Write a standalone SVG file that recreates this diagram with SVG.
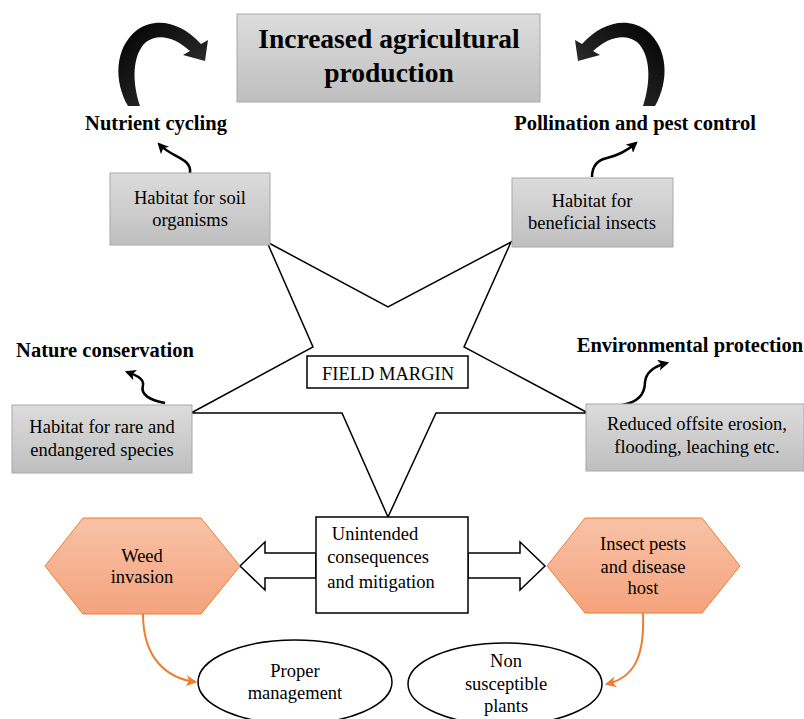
<svg xmlns="http://www.w3.org/2000/svg" width="804" height="719" viewBox="0 0 804 719">
<defs>
<linearGradient id="gray" x1="0" y1="0" x2="0" y2="1"><stop offset="0" stop-color="#dcdcdc"/><stop offset="1" stop-color="#bfbfbf"/></linearGradient>
<linearGradient id="orange" x1="0" y1="0" x2="0" y2="1"><stop offset="0" stop-color="#f8c2a7"/><stop offset="1" stop-color="#f4a37d"/></linearGradient>
<linearGradient id="blk" x1="0" y1="0" x2="1" y2="1"><stop offset="0" stop-color="#000"/><stop offset="0.6" stop-color="#222"/><stop offset="1" stop-color="#444"/></linearGradient>
<marker id="ah" viewBox="0 0 10 10" refX="8" refY="5" markerWidth="11" markerHeight="11" markerUnits="userSpaceOnUse" orient="auto"><path d="M0,0 L10,5 L0,10 L2.5,5 z" fill="#000"/></marker>
<marker id="oh" viewBox="0 0 10 10" refX="8" refY="5" markerWidth="11" markerHeight="11" markerUnits="userSpaceOnUse" orient="auto"><path d="M0,0 L10,5 L0,10 L2.5,5 z" fill="#ed7d31"/></marker>
<path id="bigarrow" d="M128,106 C114,82 114,48 137,30 C157,16 182,23 201,44 L208,40 L205,61 L183,55 L190,51 C175,37 158,33 146,42 C132,55 132,82 140,106 Z"/>
</defs>
<style>
text{font-family:"Liberation Serif","Times New Roman",serif;fill:#000;text-anchor:middle}
.b{font-weight:bold;font-size:20.5px}
.t{font-size:18.5px}
.gbox{fill:url(#gray);stroke:#a8a8a8;stroke-width:1}
.hex{fill:url(#orange);stroke:#ed7d31;stroke-width:1}
.wb{fill:#fff;stroke:#000;stroke-width:1.5}
.sa{fill:none;stroke:#000;stroke-width:2.5}
.oa{fill:none;stroke:#ed7d31;stroke-width:2}
</style>

<g id="star"><polygon class="wb" points="267,242 388,307 511,242 464,347 588,413 436,413 388,517 342,413 191,413 313,347"/></g>

<g id="connectors">
<use href="#bigarrow" fill="url(#blk)"/>
<use href="#bigarrow" fill="url(#blk)" transform="translate(783,0) scale(-1,1)"/>
<path class="sa" d="M190,173 C192,158 172,158 159,144" marker-end="url(#ah)"/>
<path class="sa" d="M592,177 C592,165 598,160 607,158 C620,155 628,150 636,143" marker-end="url(#ah)"/>
<path class="sa" d="M165,403 C150,400 140,395 143,385 C144,378 135,375 127,372" marker-end="url(#ah)"/>
<path class="sa" d="M622,405 C640,402 645,392 645,382 C646,372 655,366 667,363" marker-end="url(#ah)"/>
<polygon class="wb" points="316,553 265,553 265,542 240,566 265,590 265,578 316,578"/>
<polygon class="wb" points="468,553 520,553 520,542 545,566 520,590 520,578 468,578"/>
<path class="oa" d="M143,614 C143,660 168,678 195,682" marker-end="url(#oh)"/>
<path class="oa" d="M643,613 C645,660 632,678 607,684" marker-end="url(#oh)"/>
</g>

<g id="title">
<rect class="gbox" x="237" y="14" width="303" height="88"/>
<text x="389" y="48" style="font-weight:bold;font-size:27.5px">Increased agricultural</text>
<text x="389" y="82" style="font-weight:bold;font-size:27.5px">production</text>
</g>

<g id="lbl-nutrient"><text class="b" x="156" y="130">Nutrient cycling</text></g>
<g id="lbl-pollination"><text class="b" x="635" y="130">Pollination and pest control</text></g>
<g id="lbl-nature"><text class="b" x="105" y="357">Nature conservation</text></g>
<g id="lbl-environment"><text class="b" x="690" y="352">Environmental protection</text></g>

<g id="soil">
<rect class="gbox" x="110" y="173" width="160" height="72"/>
<text class="t" x="190" y="204">Habitat for soil</text>
<text class="t" x="190" y="226">organisms</text>
</g>

<g id="insects">
<rect class="gbox" x="512" y="178" width="161" height="69"/>
<text class="t" x="592" y="207">Habitat for</text>
<text class="t" x="592" y="229">beneficial insects</text>
</g>

<g id="rare">
<rect class="gbox" x="12" y="405" width="180" height="68"/>
<text class="t" x="102" y="433">Habitat for rare and</text>
<text class="t" x="102" y="456">endangered species</text>
</g>

<g id="erosion">
<rect class="gbox" x="586" y="404" width="218" height="67"/>
<text class="t" x="697" y="430">Reduced offsite erosion,</text>
<text class="t" x="697" y="453">flooding, leaching etc.</text>
</g>

<g id="field-margin">
<rect class="wb" x="307" y="356" width="161" height="32"/>
<text class="t" x="388" y="380">FIELD MARGIN</text>
</g>

<g id="unintended">
<rect class="wb" x="316" y="517" width="152" height="96"/>
<text class="t" x="375" y="540">Unintended</text>
<text class="t" x="378" y="563">consequences</text>
<text class="t" x="381" y="588">and mitigation</text>
</g>

<g id="weed">
<polygon class="hex" points="45,566 83,518 201,518 240,566 201,614 83,614"/>
<text class="t" x="142" y="562">Weed</text>
<text class="t" x="142" y="583">invasion</text>
</g>

<g id="pests">
<polygon class="hex" points="547,566 585,518 702,518 740,566 702,613 585,613"/>
<text class="t" x="643" y="550">Insect pests</text>
<text class="t" x="643" y="573">and disease</text>
<text class="t" x="643" y="594">host</text>
</g>

<g id="proper">
<ellipse class="wb" cx="295" cy="682" rx="97" ry="42"/>
<text class="t" x="295" y="677">Proper</text>
<text class="t" x="295" y="699">management</text>
</g>

<g id="nonsusceptible">
<ellipse class="wb" cx="505" cy="684" rx="97" ry="41"/>
<text class="t" x="506" y="667">Non</text>
<text class="t" x="506" y="690">susceptible</text>
<text class="t" x="506" y="712">plants</text>
</g>
</svg>
